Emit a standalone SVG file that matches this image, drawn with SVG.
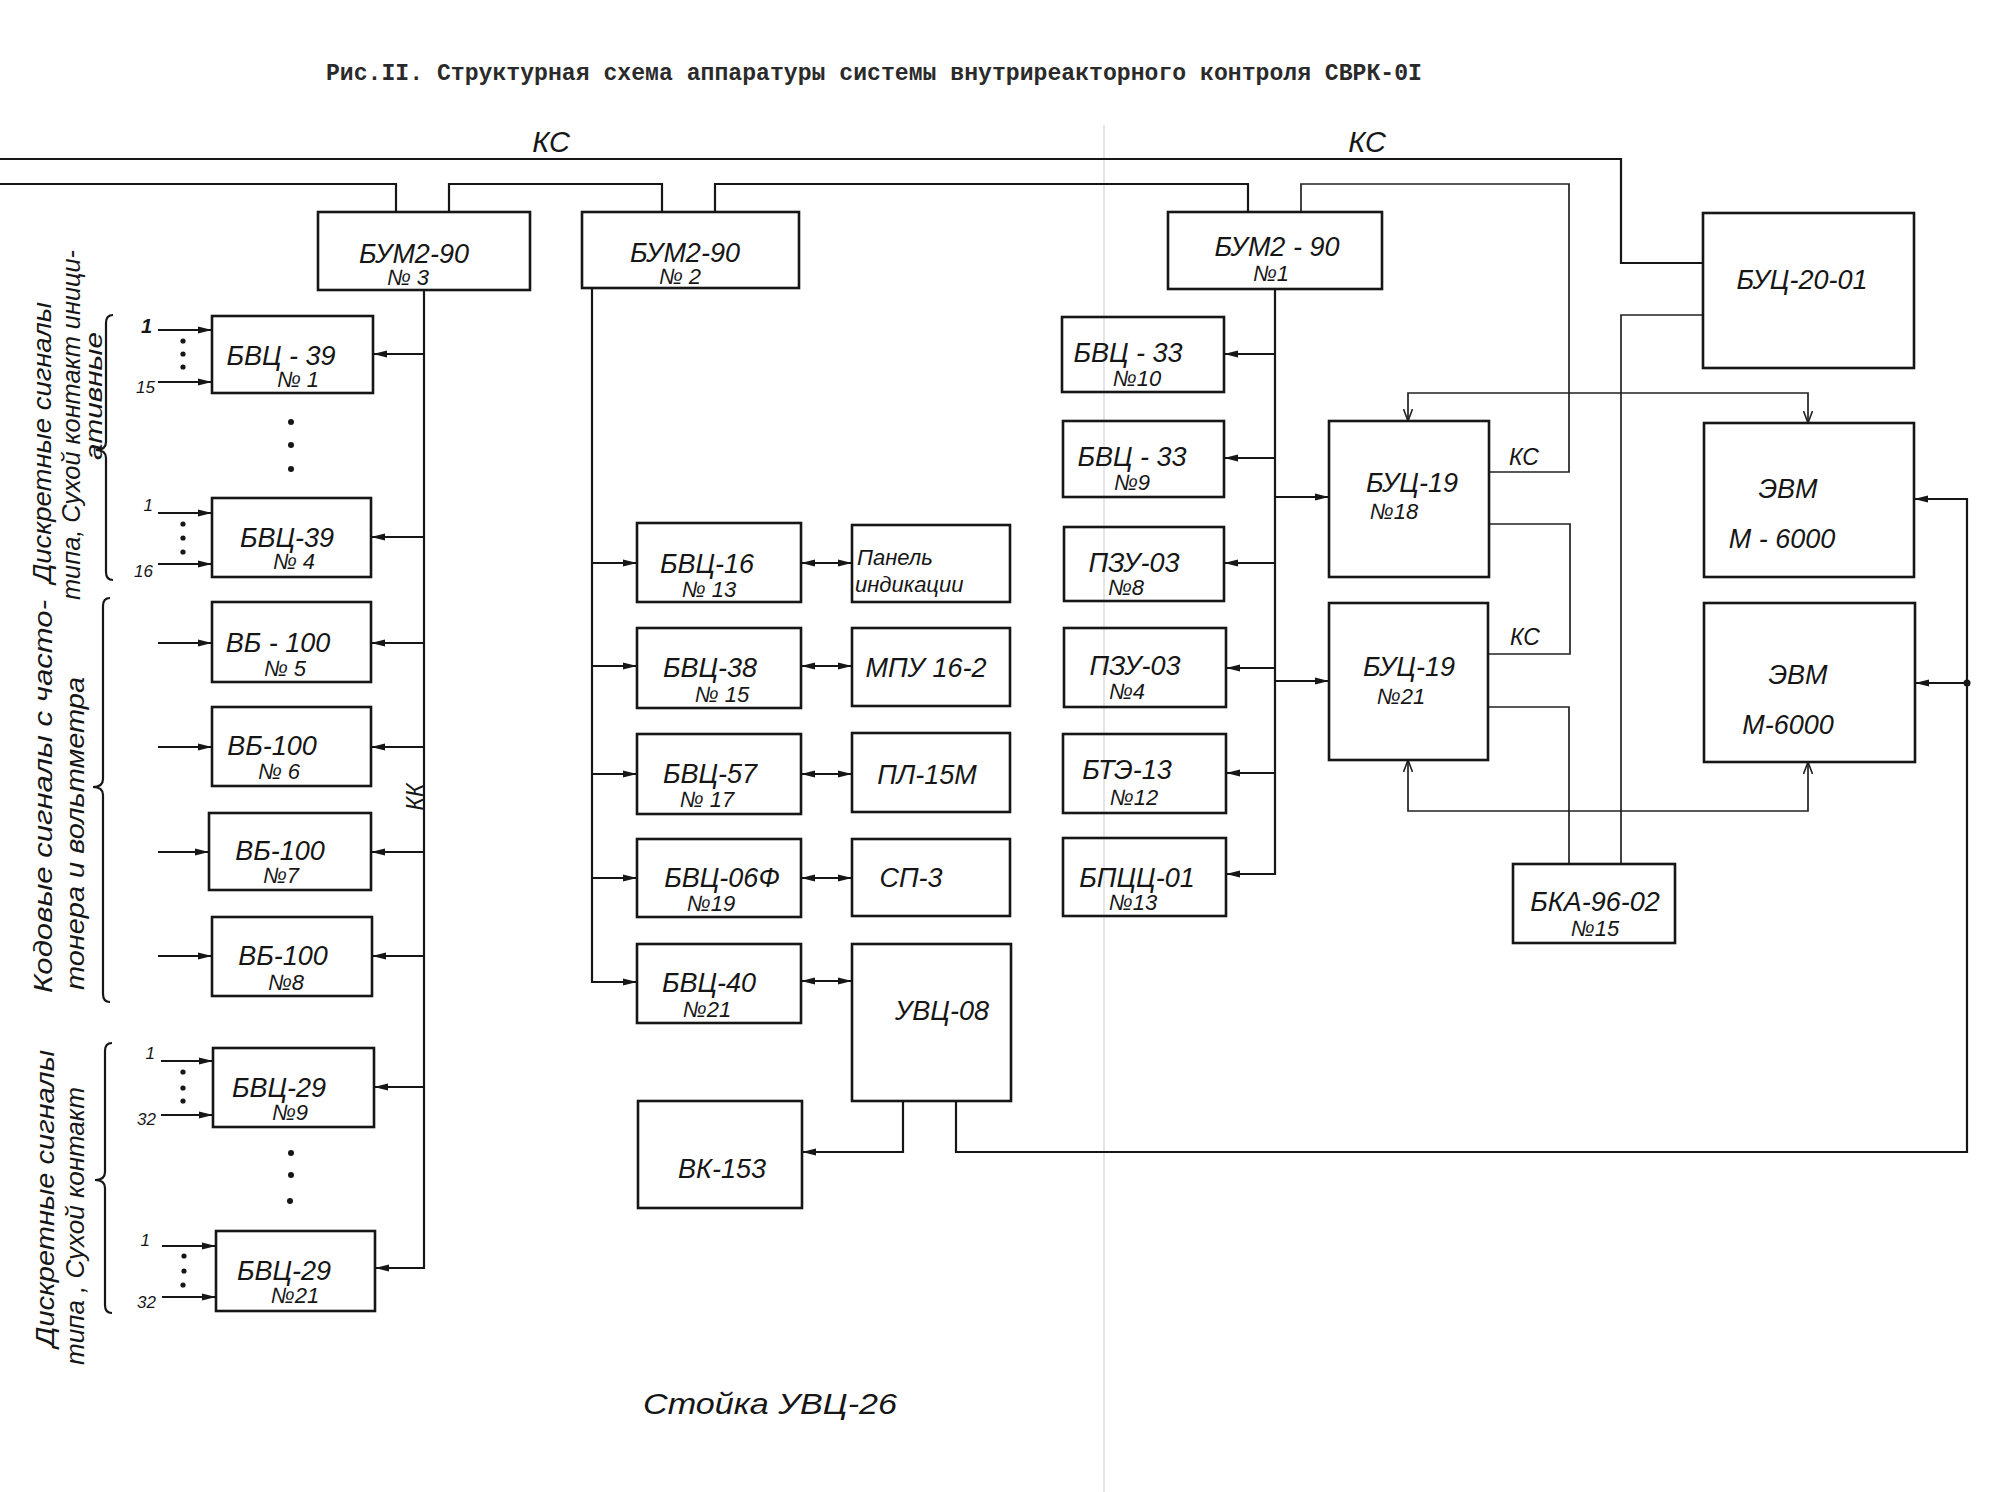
<svg xmlns="http://www.w3.org/2000/svg" width="2000" height="1492" viewBox="0 0 2000 1492">
<style>
.b{fill:none;stroke:#161616;stroke-width:2.6}
.c{fill:none;stroke:#161616;stroke-width:2.2}
.th{fill:none;stroke:#222;stroke-width:1.7}
.t{font-family:"Liberation Sans","DejaVu Sans",sans-serif;font-style:italic;font-size:27px;fill:#161616;text-anchor:middle}
.n{font-size:22px}
.s{font-family:"Liberation Sans","DejaVu Sans",sans-serif;font-style:italic;font-size:17px;fill:#161616;text-anchor:end}
.r{font-family:"Liberation Sans","DejaVu Sans",sans-serif;font-style:italic;font-size:26px;fill:#161616}
.title{font-family:"Liberation Mono","DejaVu Sans Mono",monospace;font-size:23px;font-weight:bold;fill:#2a2a2a}
.dot{fill:#161616}
</style>
<defs>
<marker id="ah" viewBox="0 0 14 8" refX="14" refY="4" markerWidth="14" markerHeight="8" markerUnits="userSpaceOnUse" orient="auto-start-reverse"><path d="M0,0.5 L14,4 L0,7.5 z" fill="#161616"/></marker>
<marker id="av" viewBox="0 0 12 10" refX="12" refY="5" markerWidth="12" markerHeight="10" markerUnits="userSpaceOnUse" orient="auto-start-reverse"><path d="M0,0.5 L12,5 L0,9.5" fill="none" stroke="#222" stroke-width="1.6"/></marker>
</defs>
<rect width="2000" height="1492" fill="#ffffff"/>
<line x1="1104" y1="125" x2="1104" y2="1492" stroke="#d4d4d4" stroke-width="1.2"/>

<text class="title" x="326" y="80" textLength="1096" lengthAdjust="spacingAndGlyphs">Рис.II. Структурная схема аппаратуры системы внутриреакторного контроля СВРК-0I</text>

<g id="labels">
<text class="t" x="551" y="152" style="font-size:29px">КС</text>
<text class="t" x="1367" y="152" style="font-size:29px">КС</text>
<text class="t" x="1524" y="465" style="font-size:23px">КС</text>
<text class="t" x="1525" y="645" style="font-size:23px">КС</text>
<text class="t" x="415" y="805" style="font-size:23px" transform="rotate(-90 415 797)">КК</text>
<text class="t" x="770" y="1414" style="font-size:29px" textLength="254" lengthAdjust="spacingAndGlyphs">Стойка  УВЦ-26</text>
</g>

<g id="side-text">
<text class="r" transform="translate(51,583) rotate(-90)" textLength="281" lengthAdjust="spacingAndGlyphs">Дискретные  сигналы</text>
<text class="r" transform="translate(80,600) rotate(-90)" textLength="350" lengthAdjust="spacingAndGlyphs">типа, Сухой контакт иници-</text>
<text class="r" transform="translate(102,460) rotate(-90)" style="font-size:24px" textLength="128" lengthAdjust="spacingAndGlyphs">ативные</text>
<text class="r" transform="translate(52,993) rotate(-90)" textLength="393" lengthAdjust="spacingAndGlyphs">Кодовые  сигналы  с  часто-</text>
<text class="r" transform="translate(84,990) rotate(-90)" textLength="313" lengthAdjust="spacingAndGlyphs">тонера  и  вольтметра</text>
<text class="r" transform="translate(54,1347) rotate(-90)" textLength="297" lengthAdjust="spacingAndGlyphs">Дискретные  сигналы</text>
<text class="r" transform="translate(84,1365) rotate(-90)" textLength="278" lengthAdjust="spacingAndGlyphs">типа , Сухой контакт</text>
<path class="c" d="M113,315 Q106,315 106,323 V442 Q106,450 96,450 Q106,450 106,458 V572 Q106,580 113,580"/>
<path class="c" d="M110,598 Q103,598 103,606 V779 Q103,787 93,787 Q103,787 103,795 V994 Q103,1002 110,1002"/>
<path class="c" d="M112,1043 Q105,1043 105,1051 V1172 Q105,1180 95,1180 Q105,1180 105,1188 V1305 Q105,1313 112,1313"/>
</g>

<g id="connectors">
<path class="c" d="M0,159 H1621 V263 H1703"/>
<path class="c" d="M0,184 H396 V212"/>
<path class="c" d="M449,212 V184 H662 V212"/>
<path class="c" d="M715,212 V184 H1248 V212"/>
<path class="th" d="M1301,212 V184 H1569 V472 H1490"/>
<path class="th" d="M1490,524 H1570 V654 H1488"/>
<path class="th" d="M1488,707 H1569 V864"/>
<path class="th" d="M1703,315 H1621 V864"/>
<path class="th" d="M1408,421 V393 H1808 V423" marker-start="url(#av)" marker-end="url(#av)"/>
<path class="th" d="M1408,760 V811 H1808 V762" marker-start="url(#av)" marker-end="url(#av)"/>
<path class="c" d="M903,1101 V1152 H802" marker-end="url(#ah)"/>
<path class="c" d="M956,1101 V1152 H1967 V499 H1914" marker-end="url(#ah)"/>
<path class="c" d="M1967,683 H1915" marker-end="url(#ah)"/>
<circle class="dot" cx="1967" cy="683" r="3.5"/>

<path class="c" d="M424,290 V1268 H375" marker-end="url(#ah)"/>
<path class="c" d="M424,354 H373" marker-end="url(#ah)"/>
<path class="c" d="M424,537 H371" marker-end="url(#ah)"/>
<path class="c" d="M424,643 H371" marker-end="url(#ah)"/>
<path class="c" d="M424,747 H371" marker-end="url(#ah)"/>
<path class="c" d="M424,852 H371" marker-end="url(#ah)"/>
<path class="c" d="M424,956 H372" marker-end="url(#ah)"/>
<path class="c" d="M424,1087 H374" marker-end="url(#ah)"/>

<path class="c" d="M158,330 H212" marker-end="url(#ah)"/>
<path class="c" d="M158,382 H212" marker-end="url(#ah)"/>
<path class="c" d="M158,513 H212" marker-end="url(#ah)"/>
<path class="c" d="M158,564 H212" marker-end="url(#ah)"/>
<path class="c" d="M158,643 H212" marker-end="url(#ah)"/>
<path class="c" d="M158,747 H212" marker-end="url(#ah)"/>
<path class="c" d="M158,852 H209" marker-end="url(#ah)"/>
<path class="c" d="M158,956 H212" marker-end="url(#ah)"/>
<path class="c" d="M161,1061 H213" marker-end="url(#ah)"/>
<path class="c" d="M161,1115 H213" marker-end="url(#ah)"/>
<path class="c" d="M162,1246 H216" marker-end="url(#ah)"/>
<path class="c" d="M162,1297 H216" marker-end="url(#ah)"/>

<path class="c" d="M592,288 V982 H637" marker-end="url(#ah)"/>
<path class="c" d="M592,563 H637" marker-end="url(#ah)"/>
<path class="c" d="M592,666 H637" marker-end="url(#ah)"/>
<path class="c" d="M592,774 H637" marker-end="url(#ah)"/>
<path class="c" d="M592,878 H637" marker-end="url(#ah)"/>
<path class="c" d="M801,563 H852" marker-start="url(#ah)" marker-end="url(#ah)"/>
<path class="c" d="M801,666 H852" marker-start="url(#ah)" marker-end="url(#ah)"/>
<path class="c" d="M801,774 H852" marker-start="url(#ah)" marker-end="url(#ah)"/>
<path class="c" d="M801,878 H852" marker-start="url(#ah)" marker-end="url(#ah)"/>
<path class="c" d="M801,981 H852" marker-start="url(#ah)" marker-end="url(#ah)"/>

<path class="c" d="M1275,289 V874 H1226" marker-end="url(#ah)"/>
<path class="c" d="M1275,354 H1224" marker-end="url(#ah)"/>
<path class="c" d="M1275,458 H1224" marker-end="url(#ah)"/>
<path class="c" d="M1275,563 H1224" marker-end="url(#ah)"/>
<path class="c" d="M1275,668 H1226" marker-end="url(#ah)"/>
<path class="c" d="M1275,773 H1226" marker-end="url(#ah)"/>
<path class="c" d="M1275,497 H1329" marker-end="url(#ah)"/>
<path class="c" d="M1275,681 H1329" marker-end="url(#ah)"/>
</g>

<g id="inputs-labels">
<text class="s" x="152" y="333" style="font-size:20px;font-weight:bold">1</text>
<text class="s" x="155" y="393">15</text>
<text class="s" x="153" y="511">1</text>
<text class="s" x="153" y="577">16</text>
<text class="s" x="155" y="1059">1</text>
<text class="s" x="156" y="1125">32</text>
<text class="s" x="150" y="1246">1</text>
<text class="s" x="156" y="1308">32</text>
<circle class="dot" cx="183" cy="341" r="2.6"/><circle class="dot" cx="183" cy="354" r="2.6"/><circle class="dot" cx="183" cy="367" r="2.6"/>
<circle class="dot" cx="183" cy="524" r="2.6"/><circle class="dot" cx="183" cy="538" r="2.6"/><circle class="dot" cx="183" cy="552" r="2.6"/>
<circle class="dot" cx="183" cy="1072" r="2.6"/><circle class="dot" cx="183" cy="1088" r="2.6"/><circle class="dot" cx="183" cy="1101" r="2.6"/>
<circle class="dot" cx="184" cy="1256" r="2.6"/><circle class="dot" cx="184" cy="1271" r="2.6"/><circle class="dot" cx="183" cy="1285" r="2.6"/>
<circle class="dot" cx="291" cy="422" r="3"/><circle class="dot" cx="291" cy="445" r="3"/><circle class="dot" cx="291" cy="469" r="3"/>
<circle class="dot" cx="291" cy="1153" r="3"/><circle class="dot" cx="291" cy="1175" r="3"/><circle class="dot" cx="290" cy="1201" r="3"/>
</g>

<g id="bum2-90-3"><rect class="b" x="318" y="212" width="212" height="78"/><text class="t" x="414" y="263">БУМ2-90</text><text class="t n" x="408" y="285">№ 3</text></g>
<g id="bvc39-1"><rect class="b" x="212" y="316" width="161" height="77"/><text class="t" x="281" y="365">БВЦ - 39</text><text class="t n" x="298" y="387">№ 1</text></g>
<g id="bvc39-4"><rect class="b" x="212" y="498" width="159" height="79"/><text class="t" x="287" y="547">БВЦ-39</text><text class="t n" x="294" y="569">№ 4</text></g>
<g id="vb100-5"><rect class="b" x="212" y="602" width="159" height="80"/><text class="t" x="278" y="652">ВБ - 100</text><text class="t n" x="285" y="676">№ 5</text></g>
<g id="vb100-6"><rect class="b" x="212" y="707" width="159" height="79"/><text class="t" x="272" y="755">ВБ-100</text><text class="t n" x="279" y="779">№ 6</text></g>
<g id="vb100-7"><rect class="b" x="209" y="813" width="162" height="77"/><text class="t" x="280" y="860">ВБ-100</text><text class="t n" x="281" y="883">№7</text></g>
<g id="vb100-8"><rect class="b" x="212" y="917" width="160" height="79"/><text class="t" x="283" y="965">ВБ-100</text><text class="t n" x="286" y="990">№8</text></g>
<g id="bvc29-9"><rect class="b" x="213" y="1048" width="161" height="79"/><text class="t" x="279" y="1097">БВЦ-29</text><text class="t n" x="290" y="1120">№9</text></g>
<g id="bvc29-21"><rect class="b" x="216" y="1231" width="159" height="80"/><text class="t" x="284" y="1280">БВЦ-29</text><text class="t n" x="295" y="1303">№21</text></g>

<g id="bum2-90-2"><rect class="b" x="582" y="212" width="217" height="76"/><text class="t" x="685" y="262">БУМ2-90</text><text class="t n" x="680" y="284">№ 2</text></g>
<g id="bvc16-13"><rect class="b" x="637" y="523" width="164" height="79"/><text class="t" x="707" y="573">БВЦ-16</text><text class="t n" x="709" y="597">№ 13</text></g>
<g id="panel"><rect class="b" x="852" y="525" width="158" height="77"/><text class="t" x="857" y="565" style="text-anchor:start;font-size:22px">Панель</text><text class="t" x="855" y="592" style="text-anchor:start;font-size:22px">индикации</text></g>
<g id="bvc38-15"><rect class="b" x="637" y="628" width="164" height="80"/><text class="t" x="710" y="677">БВЦ-38</text><text class="t n" x="722" y="702">№ 15</text></g>
<g id="mpu16-2"><rect class="b" x="852" y="628" width="158" height="78"/><text class="t" x="926" y="677">МПУ 16-2</text></g>
<g id="bvc57-17"><rect class="b" x="637" y="734" width="164" height="80"/><text class="t" x="710" y="783">БВЦ-57</text><text class="t n" x="707" y="807">№ 17</text></g>
<g id="pl15m"><rect class="b" x="852" y="733" width="158" height="79"/><text class="t" x="927" y="784">ПЛ-15М</text></g>
<g id="bvc06f-19"><rect class="b" x="637" y="839" width="164" height="78"/><text class="t" x="722" y="887">БВЦ-06Ф</text><text class="t n" x="711" y="911">№19</text></g>
<g id="sp3"><rect class="b" x="852" y="839" width="158" height="77"/><text class="t" x="911" y="887">СП-3</text></g>
<g id="bvc40-21"><rect class="b" x="637" y="944" width="164" height="79"/><text class="t" x="709" y="992">БВЦ-40</text><text class="t n" x="707" y="1017">№21</text></g>
<g id="uvc08"><rect class="b" x="852" y="944" width="159" height="157"/><text class="t" x="942" y="1020">УВЦ-08</text></g>
<g id="vk153"><rect class="b" x="638" y="1101" width="164" height="107"/><text class="t" x="722" y="1178">ВК-153</text></g>

<g id="bum2-90-1"><rect class="b" x="1168" y="212" width="214" height="77"/><text class="t" x="1277" y="256">БУМ2 - 90</text><text class="t n" x="1271" y="281">№1</text></g>
<g id="bvc33-10"><rect class="b" x="1062" y="317" width="162" height="75"/><text class="t" x="1128" y="362">БВЦ - 33</text><text class="t n" x="1137" y="386">№10</text></g>
<g id="bvc33-9"><rect class="b" x="1063" y="421" width="161" height="76"/><text class="t" x="1132" y="466">БВЦ - 33</text><text class="t n" x="1132" y="490">№9</text></g>
<g id="pzu03-8"><rect class="b" x="1064" y="527" width="160" height="74"/><text class="t" x="1134" y="572">ПЗУ-03</text><text class="t n" x="1126" y="595">№8</text></g>
<g id="pzu03-4"><rect class="b" x="1064" y="628" width="162" height="79"/><text class="t" x="1135" y="675">ПЗУ-03</text><text class="t n" x="1127" y="699">№4</text></g>
<g id="bte13-12"><rect class="b" x="1063" y="734" width="163" height="79"/><text class="t" x="1127" y="779">БТЭ-13</text><text class="t n" x="1134" y="805">№12</text></g>
<g id="bpcc01-13"><rect class="b" x="1063" y="838" width="163" height="78"/><text class="t" x="1137" y="887">БПЦЦ-01</text><text class="t n" x="1133" y="910">№13</text></g>
<g id="buc19-18"><rect class="b" x="1329" y="421" width="160" height="156"/><text class="t" x="1412" y="492">БУЦ-19</text><text class="t n" x="1394" y="519">№18</text></g>
<g id="buc19-21"><rect class="b" x="1329" y="603" width="159" height="157"/><text class="t" x="1409" y="676">БУЦ-19</text><text class="t n" x="1401" y="704">№21</text></g>
<g id="buc20-01"><rect class="b" x="1703" y="213" width="211" height="155"/><text class="t" x="1802" y="289">БУЦ-20-01</text></g>
<g id="evm-1"><rect class="b" x="1704" y="423" width="210" height="154"/><text class="t" x="1788" y="498">ЭВМ</text><text class="t" x="1782" y="548">М - 6000</text></g>
<g id="evm-2"><rect class="b" x="1704" y="603" width="211" height="159"/><text class="t" x="1798" y="684">ЭВМ</text><text class="t" x="1788" y="734">М-6000</text></g>
<g id="bka96-02-15"><rect class="b" x="1513" y="864" width="162" height="79"/><text class="t" x="1595" y="911">БКА-96-02</text><text class="t n" x="1595" y="936">№15</text></g>
</svg>
